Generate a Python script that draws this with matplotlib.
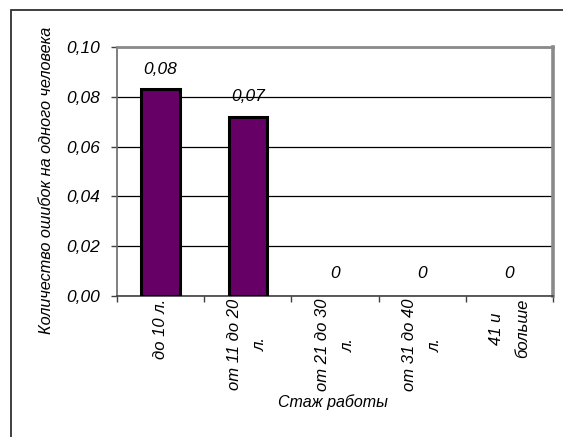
import matplotlib
matplotlib.use("Agg")
import matplotlib.pyplot as plt
from matplotlib.patches import Rectangle
from matplotlib.ticker import FixedLocator, FuncFormatter

plt.rcParams['font.family'] = ['Liberation Sans', 'DejaVu Sans']

categories = ["до 10 л.", "от 11 до 20\nл.", "от 21 до 30\nл.", "от 31 до 40\nл.", "41 и\nбольше"]
values = [0.083, 0.072, 0.0, 0.0, 0.0]
y_ticks = [0.00, 0.02, 0.04, 0.06, 0.08, 0.10]
x_title = "Стаж работы"
y_title = "Количество ошибок на одного человека"

W, H = 563, 437
fig = plt.figure(figsize=(W / 100, H / 100), dpi=100)

# outer chart frame (runs off the right and bottom edges)
fig.patches.append(Rectangle((11 / W, -0.05), 1.1, 1 - 10 / H + 0.05,
                             transform=fig.transFigure, fill=False,
                             edgecolor="#303030", linewidth=1.3))

left, right, top, bottom = 117, 553, 47, 296
ax = fig.add_axes([left / W, 1 - bottom / H, (right - left) / W, (bottom - top) / H])

x = list(range(len(categories)))
edge_widths = [2.2 if v > 0 else 0 for v in values]
ax.bar(x, values, width=0.44, color="#660066", edgecolor="black",
       linewidth=edge_widths, zorder=3)

ax.set_xlim(-0.5, len(categories) - 0.5)
ax.set_ylim(0, 0.10)

ax.yaxis.set_major_locator(FixedLocator(y_ticks))
ax.yaxis.set_major_formatter(FuncFormatter(lambda v, p: f"{v:.2f}".replace(".", ",")))
ax.grid(axis="y", color="black", linewidth=0.9, zorder=1)
ax.set_axisbelow(True)

# category boundaries as ticks, labels on category centres
ax.xaxis.set_major_locator(FixedLocator([i - 0.5 for i in range(len(categories) + 1)]))
ax.xaxis.set_major_formatter(FuncFormatter(lambda v, p: ""))
ax.xaxis.set_minor_locator(FixedLocator(x))
ax.set_xticklabels(categories, minor=True, rotation=90, fontstyle="italic",
                   fontsize=12, ha="center", va="top", multialignment="center",
                   linespacing=1.9)
ax.tick_params(axis="x", which="minor", length=0, pad=2)
ax.tick_params(axis="x", which="major", length=4, width=1, color="#404040", direction="out")
ax.tick_params(axis="y", which="major", length=4, width=1, color="#404040", direction="out",
               pad=8, labelsize=12.5)
for lbl in ax.get_yticklabels():
    lbl.set_fontstyle("italic")

for side in ("top", "right"):
    ax.spines[side].set_color("#8a8a8a")
ax.spines["top"].set_linewidth(2)
ax.spines["right"].set_linewidth(2.6)
ax.spines["left"].set_color("#6a6a6a")
ax.spines["left"].set_linewidth(1.2)
ax.spines["bottom"].set_color("#404040")
ax.spines["bottom"].set_linewidth(1.2)

for xi, v in zip(x, values):
    label = "0" if v == 0 else f"{v:.2f}".replace(".", ",")
    off = 23 if v == 0 else 20
    ax.annotate(label, (xi, v), xytext=(0, off), textcoords="offset pixels",
                ha="center", va="center", fontsize=12.5, fontstyle="italic", zorder=4)

fig.text(333 / W, 1 - 402 / H, x_title, ha="center", va="center",
         fontsize=11.5, fontstyle="italic")
fig.text(47 / W, 1 - 180 / H, y_title, ha="center", va="center", rotation=90,
         fontsize=11.7, fontstyle="italic")

fig.savefig("out.png", dpi=100)
